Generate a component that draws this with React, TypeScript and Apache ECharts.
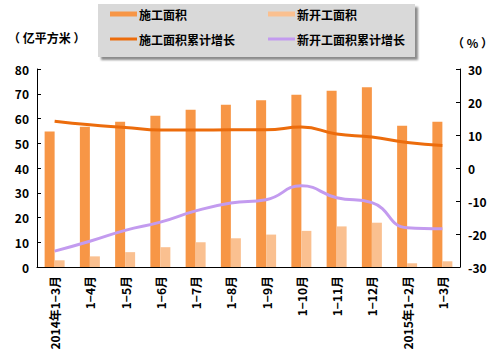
import React, { useEffect, useRef } from "react";
import * as echarts from "echarts";

const categories = ["2014年1−3月", "1−4月", "1−5月", "1−6月", "1−7月", "1−8月", "1−9月", "1−10月", "1−11月", "1−12月", "2015年1−2月", "1−3月"];
const constructionArea = [54.7, 56.7, 58.7, 61.1, 63.5, 65.6, 67.4, 69.6, 71.2, 72.6, 57.1, 58.7];
const newStartArea = [2.7, 4.3, 6.0, 8.0, 10.0, 11.6, 13.1, 14.6, 16.4, 17.9, 1.5, 2.3];
const constructionGrowth = [14.2, 13.1, 12.3, 11.5, 11.5, 11.6, 11.6, 12.4, 10.3, 9.4, 7.7, 6.8];
const newStartGrowth = [-25.2, -22.2, -18.9, -16.4, -13.0, -10.6, -9.6, -5.4, -9.0, -10.5, -18.1, -18.4];
const leftTicks = { min: 0, max: 80, interval: 10 };
const rightTicks = { min: -30, max: 30, interval: 10 };

const C_BAR = "#F79646";
const C_BAR2 = "#FAC090";
const C_LINE = "#EC6C0C";
const C_LINE2 = "#C39BEF";
const FONT = "'Noto Sans CJK SC', sans-serif";

export default function App() {
  const ref = useRef<HTMLDivElement>(null);
  useEffect(() => {
    if (!ref.current) return;
    const chart = echarts.init(ref.current, undefined, { renderer: "svg" });
    const textStyle = { fontFamily: FONT, fontWeight: "bold" as const, fontSize: 12, color: "#000" };
    const mkLegend = (name: string, left: number, top: number, h: number) => ({
      data: [{ name, icon: "rect" }],
      left,
      top,
      itemWidth: 27,
      itemHeight: h,
      itemGap: 4,
      textStyle: { ...textStyle, padding: [0, 0, 0, -3] },
      selectedMode: false,
      padding: 0,
    });
    chart.setOption({
      animation: false,
      textStyle: { fontFamily: FONT },
      graphic: [
        {
          type: "rect",
          shape: { x: 98, y: 4, width: 317, height: 53 },
          style: { fill: "#D9D9D9", shadowColor: "rgba(0,0,0,0.45)", shadowOffsetX: 3, shadowOffsetY: 3, shadowBlur: 2 },
          z: -1,
        },
        { type: "text", left: 8, top: 31, style: { text: "（ 亿平方米 ）", font: `bold 12px ${FONT}`, fill: "#000" } },
        { type: "text", left: 452, top: 36, style: { text: "（ % ）", font: `bold 12px ${FONT}`, fill: "#000" } },
      ],
      legend: [
        mkLegend("施工面积", 110, 8, 5),
        mkLegend("新开工面积", 268, 8, 5),
        mkLegend("施工面积累计增长", 110, 33, 3),
        mkLegend("新开工面积累计增长", 268, 33, 3),
      ],
      grid: { left: 37, right: 39, top: 69, bottom: 97, containLabel: false },
      xAxis: {
        type: "category",
        data: categories,
        axisLine: { lineStyle: { color: "#000", width: 1 } },
        axisTick: { inside: true, length: 4, lineStyle: { color: "#000" } },
        axisLabel: { ...textStyle, fontSize: 12, rotate: 90, margin: 9, interval: 0 },
      },
      yAxis: [
        {
          type: "value",
          ...leftTicks,
          axisLine: { show: true, lineStyle: { color: "#000" } },
          axisTick: { show: true, inside: true, length: 4, lineStyle: { color: "#000" } },
          splitLine: { show: false },
          axisLabel: { ...textStyle, margin: 8 },
        },
        {
          type: "value",
          ...rightTicks,
          position: "right",
          axisLine: { show: true, lineStyle: { color: "#000" } },
          axisTick: { show: true, inside: true, length: 4, lineStyle: { color: "#000" } },
          splitLine: { show: false },
          axisLabel: { ...textStyle, margin: 8 },
        },
      ],
      series: [
        { name: "施工面积", type: "bar", data: constructionArea, barWidth: 10, barGap: "0%", itemStyle: { color: C_BAR } },
        { name: "新开工面积", type: "bar", data: newStartArea, barWidth: 10, barGap: "0%", itemStyle: { color: C_BAR2 } },
        { name: "施工面积累计增长", type: "line", yAxisIndex: 1, data: constructionGrowth, smooth: true, symbol: "none", lineStyle: { color: C_LINE, width: 3 }, itemStyle: { color: C_LINE } },
        { name: "新开工面积累计增长", type: "line", yAxisIndex: 1, data: newStartGrowth, smooth: true, symbol: "none", lineStyle: { color: C_LINE2, width: 3 }, itemStyle: { color: C_LINE2 } },
      ],
    });
    return () => chart.dispose();
  }, []);
  return <div ref={ref} style={{ width: 499, height: 364, position: "absolute", left: 0, top: 0 }} />;
}
